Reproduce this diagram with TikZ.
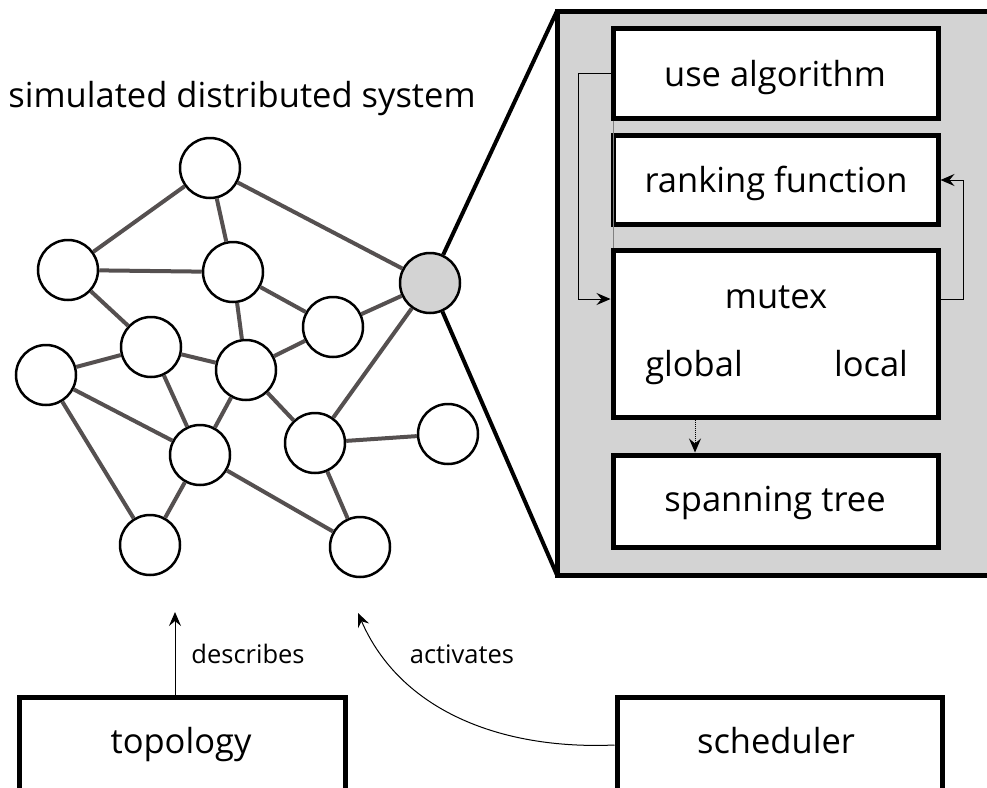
\documentclass[tikz,border=0pt]{standalone}
\usepackage{fontspec}
\setmainfont{Open Sans}
\usetikzlibrary{arrows.meta}
\definecolor{edgegray}{HTML}{555050}
\definecolor{panelgray}{HTML}{D3D3D3}
\begin{document}
\begin{tikzpicture}[x=1pt,y=-1pt,
  vtx/.style={circle,draw=black,line width=2.5pt,fill=white,minimum size=60pt,inner sep=0pt},
  edge/.style={draw=edgegray,line width=4pt},
  bigtext/.style={font=\fontsize{34.5}{40}\selectfont,anchor=base,inner sep=0pt},
  smalltext/.style={font=\fontsize{25.5}{30}\selectfont,anchor=base,inner sep=0pt},
  box/.style={draw=black,line width=5pt,fill=white,minimum width=325pt,inner sep=0pt},
  thinarrow/.style={line width=1pt,-{Stealth[length=14pt,width=12pt,inset=5pt]}},
]
\useasboundingbox (0,0) rectangle (987,787);

% panel
\fill[panelgray] (557,11) rectangle (1000,575);
\draw[line width=5pt,line join=miter] (1000,11) -- (557,11) -- (557,575) -- (1000,575);
\coordinate (ftl) at (557,11);
\coordinate (fbl) at (557,575);

% title
\node[bigtext] (title) at (242,107) {simulated distributed system};

% graph nodes
\node[vtx] (n1) at (210,168) {};
\node[vtx] (nA) at (68,270) {};
\node[vtx] (nB) at (233,272) {};
\node[vtx] (nC) at (151,347) {};
\node[vtx] (nD) at (246,370) {};
\node[vtx] (nE) at (46,375) {};
\node[vtx] (nF) at (333,327) {};
\node[vtx,fill=panelgray] (nG) at (430,283) {};
\node[vtx] (nH) at (315,443) {};
\node[vtx] (nI) at (448,434) {};
\node[vtx] (nJ) at (200,455) {};
\node[vtx] (nK) at (150,545) {};
\node[vtx] (nL) at (360,547) {};

% graph edges
\foreach \a/\b in {n1/nA,n1/nB,n1/nG,nA/nB,nA/nC,nB/nD,nB/nF,nC/nE,nC/nD,nC/nJ,
  nD/nF,nD/nJ,nD/nH,nE/nJ,nE/nK,nJ/nK,nJ/nL,nH/nG,nH/nI,nH/nL,nF/nG}
  \draw[edge] (\a) -- (\b);

\draw[line width=4pt] (nG) -- (ftl);
\draw[line width=4pt] (nG) -- (fbl);

% panel boxes
\node[box,minimum height=90pt] (use) at (775.5,73) {};
\node[box,minimum height=89pt] (rank) at (775.5,180) {};
\node[box,minimum height=167pt] (mutex) at (775.5,333.5) {};
\node[box,minimum height=92pt] (span) at (775.5,501) {};
\node[bigtext] (usetxt) at (775,86) {use algorithm};
\node[bigtext] (ranktxt) at (776,192) {ranking function};
\node[bigtext] (mtx) at (776,308) {mutex};
\node[bigtext] (glob) at (694,376) {global};
\node[bigtext] (loc) at (871,376) {local};
\node[bigtext] (spantxt) at (775,511) {spanning tree};

\draw[gray,line width=0.6pt] ([xshift=2.5pt]use.south west) -- ([xshift=2.5pt]mutex.north west);

\coordinate (la) at (578,299);
\draw[thinarrow] (use.west) -| (la) -- (la -| mutex.west);
\coordinate (ra) at (963,299);
\draw[thinarrow] (ra -| mutex.east) -- (ra) |- (rank.east);
\coordinate (da) at (695,0);
\draw[thinarrow,densely dotted] (da |- mutex.south) -- (da |- span.north);

% bottom
\node[box,minimum width=326pt,minimum height=96pt] (topo) at (182,745) {};
\node[box,minimum width=325pt,minimum height=96pt] (sched) at (779.5,745) {};
\node[bigtext] (topotxt) at (181,753) {topology};
\node[bigtext] (schedtxt) at (776,753) {scheduler};

\coordinate (dtip) at (175,612);
\draw[thinarrow] (dtip |- topo.north) -- (dtip);
\node[smalltext] (desc) at (248,663) {describes};
\coordinate (atip) at (358,613);
\draw[thinarrow] (sched.west) .. controls (500,750) and (400,710) .. (atip);
\node[smalltext] (act) at (462,663) {activates};
\end{tikzpicture}
\end{document}
